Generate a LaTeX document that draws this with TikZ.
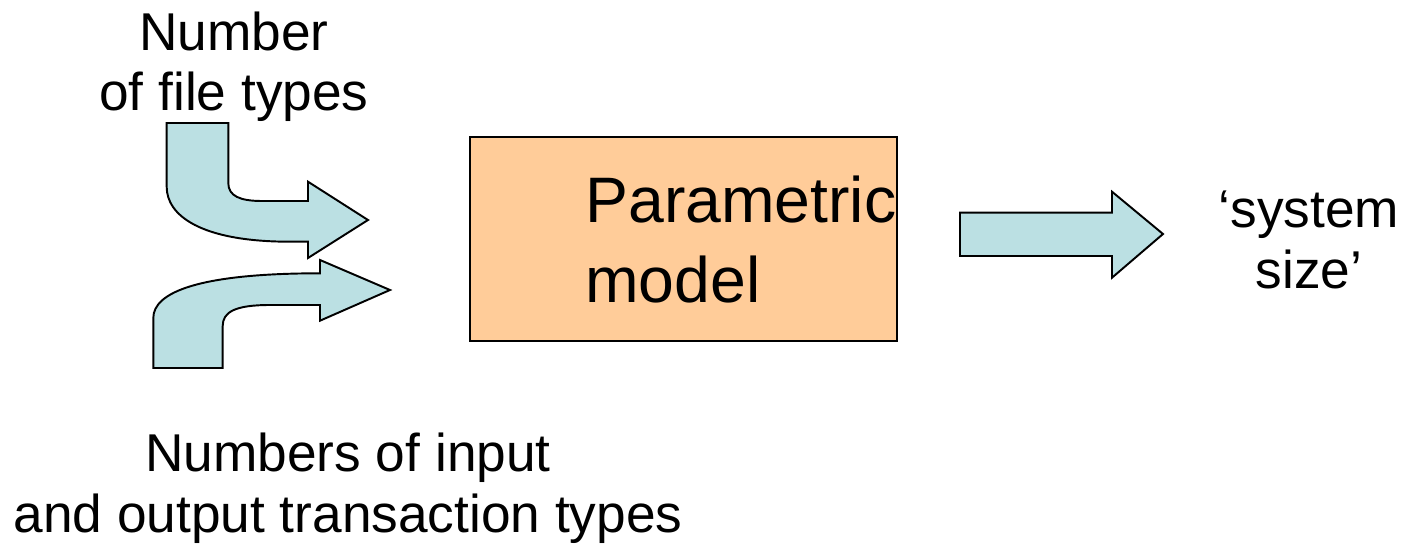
\documentclass[tikz,border=0pt]{standalone}
\usepackage{fontspec}
\setmainfont{Liberation Sans}
\definecolor{arrowblue}{RGB}{187,224,227}
\definecolor{modelpeach}{RGB}{255,204,153}
\begin{document}
\begin{tikzpicture}[x=0.02cm, y=-0.02cm,
	blk/.style = {draw, line width=1.1pt, fill=arrowblue},
	txt/.style = {align=center, inner sep=0pt, font=\fontsize{30.3}{34.5}\selectfont},
	main/.style = {draw, line width=1pt, fill=modelpeach, minimum width=8.54cm, minimum height=4.08cm}]
	\useasboundingbox (0,0) rectangle (1402,544);
	
	%Model box and its text
	\node[main] (1) at (683.5,239) {};
	\node[anchor=base west, align=left, inner sep=0pt, font=\fontsize{36.6}{45}\selectfont] (2) at (585,302) {Parametric\\model};
	
	%Inputs and output
	\node[txt, anchor=base] (3) at (234,111) {Number\\of file types};
	\node[txt, anchor=base] (4) at (348,532) {Numbers of input\\and output transaction types};
	\node[txt, anchor=base] (5) at (1309,288) {‘system\\size’};
	
	%Block arrows
	\draw[blk] (166.7,123) -- (228.3,123) -- (228.3,183) .. controls (228.3,196) and (240,201) .. (262,201) -- (308,201) -- (308,181.7) -- (368,220) -- (308,258) -- (308,241.7) -- (290,241.7) .. controls (200,241.7) and (166.7,215) .. (166.7,187) -- cycle; %Arrow from file types
	\draw[blk] (153.3,368) -- (222.7,368) -- (222.7,326) .. controls (222.7,312) and (235,305) .. (270,305) -- (320,305) -- (320,320.7) -- (390,290) -- (320,260) -- (320,273.3) .. controls (200,273.3) and (153.3,292) .. (153.3,318) -- cycle; %Arrow from transaction types
	\draw[blk] (960,212.7) -- (1112,212.7) -- (1112,191.7) -- (1163,234) -- (1112,277.7) -- (1112,256) -- (960,256) -- cycle; %Arrow to system size
\end{tikzpicture}
\end{document}
